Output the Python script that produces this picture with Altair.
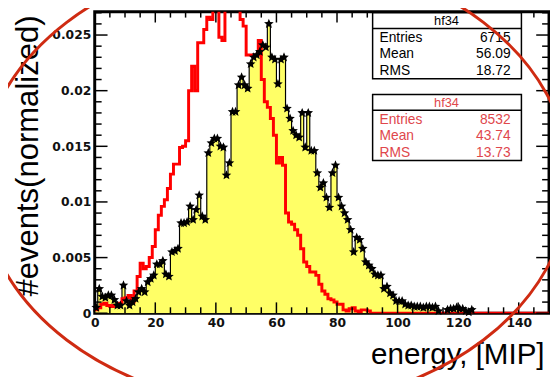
import altair as alt
import numpy as np
import pandas as pd

# ---------------- data ----------------
bin_width = 1.0
x_domain = [0, 150]
y_domain = [0, 0.0271]

# second histogram (red outline), one value per 1-MIP bin starting at 0
red_vals = [
    0.0003, 0.0005, 0.0008, 0.0009, 0.0007, 0.0006, 0.0007, 0.0006, 0.0009, 0.0013,
    0.0014, 0.0016, 0.0010, 0.0020, 0.0033, 0.0045, 0.0040, 0.0042, 0.0050, 0.0060,
    0.0075, 0.0088, 0.0096, 0.0102, 0.0112, 0.0125, 0.0134, 0.0134, 0.0149, 0.0150,
    0.0155, 0.0200, 0.0222, 0.0200, 0.0243, 0.0243, 0.0255, 0.0266, 0.0264, 0.0285,
    0.0290, 0.0248, 0.0245, 0.0285, 0.0300, 0.0300, 0.0290, 0.0280, 0.0264, 0.0258,
    0.0232, 0.0232, 0.0232, 0.0232, 0.0245, 0.0210, 0.0190, 0.0185, 0.0175, 0.0160,
    0.0135, 0.0140, 0.0133, 0.0090, 0.0082, 0.0080, 0.0075, 0.0070, 0.0058, 0.0046,
    0.0042, 0.0037, 0.0037, 0.0034, 0.0026, 0.0020, 0.0017, 0.0013, 0.0012, 0.0010,
    0.0008, 0.0008, 0.0003, 0.0002, 0.0004, 0.0005, 0.0002, 0.0001, 0.0003, 0.0003,
    0.0002, 0.0, 0.0, 0.0, 0.0, 0.0, 0.0, 0.0, 0.0, 0.0,
    0.0, 0.0, 0.0, 0.0, 0.0, 0.0, 0.0, 0.0, 0.0, 0.0,
    0.0, 0.0, 0.0, 0.0, 0.0, 0.0, 0.0, 0.0, 0.0, 0.0,
    0.0, 0.0, 0.0, 0.0, 0.0, 0.0, 0.0, 0.0, 0.0, 0.0,
    0.0, 0.0, 0.0, 0.0, 0.0, 0.0, 0.0, 0.0, 0.0, 0.0,
    0.0, 0.0, 0.0, 0.0, 0.0, 0.0, 0.0, 0.0, 0.0, 0.0,
]

# first histogram (black markers, yellow fill)
black_vals = [
    0.0005, 0.0022, 0.0015, 0.0014, 0.0016, 0.0016, 0.0012, 0.0007, 0.0007, 0.0025,
    0.0011, 0.0007, 0.0010, 0.0013, 0.0019, 0.0022, 0.0019, 0.0028, 0.0031, 0.0034,
    0.0044, 0.0044, 0.0047, 0.0035, 0.0033, 0.0055, 0.0056, 0.0058, 0.0081, 0.0081,
    0.0082, 0.0096, 0.0084, 0.0093, 0.0106, 0.0087, 0.0084, 0.0144, 0.0153, 0.0157,
    0.0157, 0.0150, 0.0149, 0.0124, 0.0135, 0.0181, 0.0181, 0.0205, 0.0212, 0.0205,
    0.0202, 0.0224, 0.0230, 0.0232, 0.0235, 0.0241, 0.0239, 0.0260, 0.0230, 0.0228,
    0.0206, 0.0228, 0.0230, 0.0184, 0.0175, 0.0164, 0.0160, 0.0158, 0.0180, 0.0149,
    0.0180, 0.0146, 0.0146, 0.0126, 0.0113, 0.0117, 0.0104, 0.0095, 0.0126, 0.0133,
    0.0104, 0.0096, 0.0090, 0.0084, 0.0075, 0.0055, 0.0068, 0.0066, 0.0058, 0.0046,
    0.0043, 0.0040, 0.0035, 0.0034, 0.0034, 0.0022, 0.0024, 0.0018, 0.0016, 0.0011,
    0.0011, 0.0011, 0.0008, 0.0007, 0.0007, 0.0006, 0.0006, 0.0006, 0.0005, 0.0006,
    0.0006, 0.0005, 0.0006, 0.0002, 0.0000, 0.0000, 0.0003, 0.0004, 0.0004, 0.0005,
    0.0004, 0.0004, 0.0002, 0.0001, 0.0003,
]

hist_name = "hf34"
stat_labels = ["Entries", "Mean", "RMS"]
black_stats = ["6715", "56.09", "18.72"]
red_stats = ["8532", "43.74", "13.73"]

x_major = [0, 20, 40, 60, 80, 100, 120, 140]
x_minor = [v for v in range(5, 150, 5) if v % 20 != 0]
y_major = [0, 0.005, 0.01, 0.015, 0.02, 0.025]
y_minor = [round(k * 0.001, 3) for k in range(1, 28) if k % 5 != 0]

# ---------------- layout / style ----------------
W, H = 461, 306
RED = "#ff0000"
YELLOW = "#ffff66"
ELLIPSE_COLOR = "#cf2b12"
STAT_RED = "#e0474c"

STAR = ("M0,-1 L0.2645,-0.364 L0.951,-0.309 L0.428,0.139 L0.588,0.809 "
        "L0,0.45 L-0.588,0.809 L-0.428,0.139 L-0.951,-0.309 L-0.2645,-0.364 Z")
EB = 0.7625  # ellipse minor/major ratio
ELLIPSE = (f"M -1 0 C -1 {-0.5523*EB:.4f} -0.5523 {-EB} 0 {-EB} "
           f"C 0.5523 {-EB} 1 {-0.5523*EB:.4f} 1 0 "
           f"C 1 {0.5523*EB:.4f} 0.5523 {EB} 0 {EB} "
           f"C -0.5523 {EB} -1 {0.5523*EB:.4f} -1 0 Z")

xs = alt.Scale(domain=x_domain, nice=False, zero=False)
ys = alt.Scale(domain=y_domain, nice=False, zero=False)

xax = alt.Axis(values=x_major, labelFont="DejaVu Sans", labelFontWeight="bold",
               labelFontSize=12.5, labelColor="#111111", labelPadding=3,
               ticks=False, tickSize=0, domain=False, grid=False, labelFlush=False,
               title="energy, [MIP]", titleFont="Liberation Sans", titleFontSize=30,
               titleFontWeight="normal", titleColor="black", titleAnchor="end",
               titleAlign="right", titleBaseline="alphabetic", titleX=456, titleY=51)
yax = alt.Axis(values=y_major, format=".3~f", labelFont="DejaVu Sans",
               labelFontWeight="bold", labelFontSize=12.5, labelColor="#111111",
               labelPadding=4, ticks=False, tickSize=0, domain=False, grid=False,
               labelFlush=False,
               title="#events(normalized)", titleFont="Liberation Sans",
               titleFontSize=31.5, titleFontWeight="normal", titleColor="black",
               titleAngle=270, titleAlign="center", titleBaseline="alphabetic",
               titleX=-58, titleY=146)

X = lambda f: alt.X(f, scale=xs, axis=xax)
Y = lambda f: alt.Y(f, scale=ys, axis=yax)


def step_frame(vals):
    n = len(vals)
    return pd.DataFrame({"x": np.arange(n + 1) * bin_width,
                         "y": list(vals) + [vals[-1]]})


def center_frame(vals):
    n = len(vals)
    return pd.DataFrame({"x": (np.arange(n) + 0.5) * bin_width, "y": list(vals)})


black_step = step_frame(black_vals)
red_step = step_frame(red_vals)
black_pts = center_frame(black_vals)

area = alt.Chart(black_step).mark_area(interpolate="step-after", color=YELLOW,
                                       clip=True).encode(x=X("x:Q"), y=Y("y:Q"))
black_line = alt.Chart(black_step).mark_line(interpolate="step-after", color="black",
                                             strokeWidth=1.2, clip=True).encode(
    x=X("x:Q"), y=Y("y:Q"))
red_line = alt.Chart(red_step).mark_line(interpolate="step-after", color=RED,
                                         strokeWidth=3, clip=True).encode(
    x=X("x:Q"), y=Y("y:Q"))
points = alt.Chart(black_pts).transform_filter("datum.y > 0").mark_point(
    shape=STAR, filled=True, size=105, color="black", opacity=1).encode(
    x=X("x:Q"), y=Y("y:Q"))


def xticks(values, length, top):
    base = alt.Chart(pd.DataFrame({"v": values})).mark_rule(color="black", strokeWidth=1.5)
    if top:
        return base.encode(x=X("v:Q"), y=alt.value(0), y2=alt.value(length))
    return base.encode(x=X("v:Q"), y=alt.value(H), y2=alt.value(H - length))


def yticks(values, length, right):
    base = alt.Chart(pd.DataFrame({"v": values})).mark_rule(color="black", strokeWidth=1.5)
    if right:
        return base.encode(y=Y("v:Q"), x=alt.value(W), x2=alt.value(W - length))
    return base.encode(y=Y("v:Q"), x=alt.value(0), x2=alt.value(length))


tick_layers = [
    xticks(x_major, 11, False), xticks(x_minor, 6, False),
    xticks(x_major, 11, True), xticks(x_minor, 6, True),
    yticks(y_major, 13, False), yticks(y_minor, 7, False),
    yticks(y_major, 13, True), yticks(y_minor, 7, True),
]

one = pd.DataFrame({"k": [0]})


def stat_box(top, stats, color):
    left, right = 282, 433
    box = alt.Chart(one).mark_rect(fill="white", stroke="black", strokeWidth=1.5).encode(
        x=alt.value(left), x2=alt.value(right), y=alt.value(top), y2=alt.value(top + 67))
    sep = alt.Chart(one).mark_rule(color="black", strokeWidth=1.5).encode(
        x=alt.value(left), x2=alt.value(right), y=alt.value(top + 16))
    head = alt.Chart(pd.DataFrame({"t": [hist_name]})).mark_text(
        align="center", baseline="alphabetic", font="Liberation Sans", fontSize=13,
        color=color).encode(text="t:N", x=alt.value(357), y=alt.value(top + 13))
    labs = alt.Chart(pd.DataFrame({"t": ["\n".join(stat_labels)]})).mark_text(
        align="left", baseline="alphabetic", font="Liberation Sans", fontSize=14,
        lineBreak="\n", lineHeight=16.5, color=color).encode(
        text="t:N", x=alt.value(289), y=alt.value(top + 30))
    vals = alt.Chart(pd.DataFrame({"t": ["\n".join(stats)]})).mark_text(
        align="right", baseline="alphabetic", font="Liberation Sans", fontSize=14,
        lineBreak="\n", lineHeight=16.5, color=color).encode(
        text="t:N", x=alt.value(422), y=alt.value(top + 30))
    return [box, sep, head, labs, vals]


ellipse = alt.Chart(one).mark_point(
    shape=ELLIPSE, size=(2 * 299) ** 2, filled=False, color=ELLIPSE_COLOR,
    stroke=ELLIPSE_COLOR, strokeWidth=3, opacity=1).encode(
    x=alt.value(183), y=alt.value(172))

chart = alt.layer(
    area, black_line, red_line, points, *tick_layers,
    *stat_box(1, black_stats, "black"), *stat_box(84, red_stats, STAT_RED),
    ellipse,
).properties(
    width=W, height=H,
    padding={"left": 88, "top": 1, "right": 1, "bottom": 62},
    autosize=alt.AutoSizeParams(type="none"),
    background="white",
).configure_view(stroke="black", strokeWidth=3)

chart.save("out.html", embed_options={"renderer": "svg", "actions": False})
